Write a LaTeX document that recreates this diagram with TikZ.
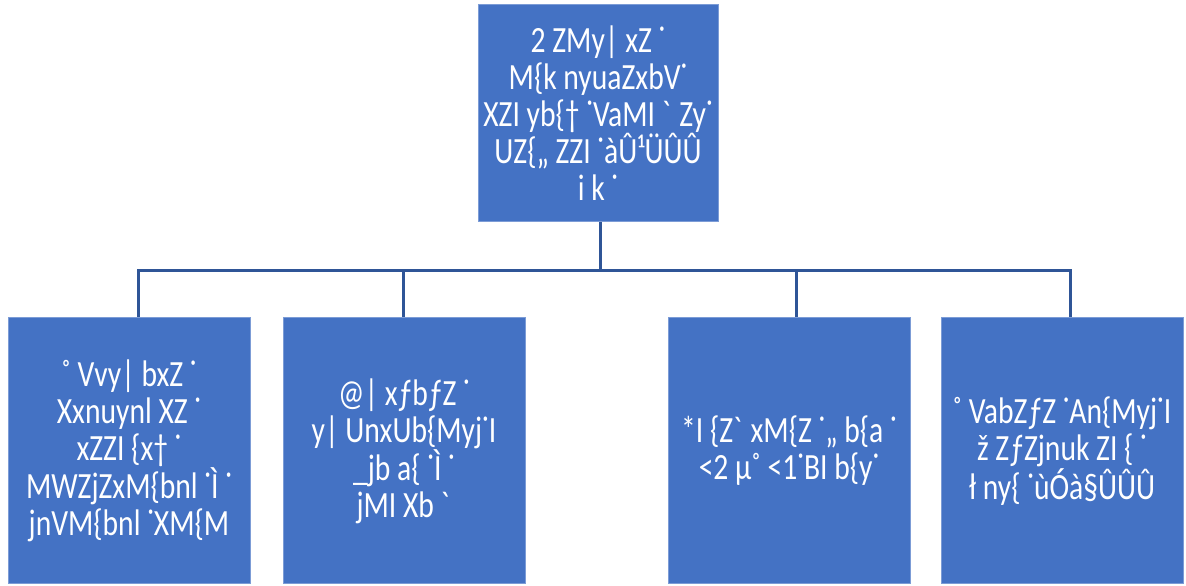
\documentclass[tikz,border=0pt]{standalone}
\usepackage{fontspec}
\setmainfont{Carlito}[FakeStretch=0.8]
\usetikzlibrary{positioning}
\definecolor{chartblue}{RGB}{68,114,196}
\definecolor{chartline}{RGB}{47,85,151}
\tikzset{
    % org chart boxes
    orgbox/.style={
        rectangle, fill=chartblue, draw=chartblue!70!white,
        line width=1pt, text=white, align=center, inner sep=0pt,
        font=\fontsize{37}{37}\selectfont
    },
    topbox/.style={orgbox, minimum width=240pt, minimum height=217pt},
    leafbox/.style={orgbox, minimum width=242pt, minimum height=266pt},
    % connectors
    link/.style={draw=chartline, line width=3pt},
}

\begin{document}
\begin{tikzpicture}[x=1pt,y=1pt]
  \useasboundingbox (0,0) rectangle (1186,586);
  % the head box
  \node[topbox] (boss) at (598,472.5)
     {2 ZMy| xZ ˙\\ M\{k nyuaZxbV˙\\ XZI yb\{† ˙VaMI \textasciigrave{} Zy˙\\ UZ\{„ ZZI ˙àÛ¹ÜÛÛ\\ i k ˙};

  % the four boxes below
  \node[leafbox] (b1) at (129,135)
     {˚ Vvy| bxZ ˙\\ Xxnuynl XZ ˙\\ xZZI \{x† ˙\\ MWZjZxM\{bnl ˙Ì ˙\\ jnVM\{bnl ˙XM\{M};
  \node[leafbox] (b2) at (404,135)
     {@| xƒbƒZ ˙\\ y| UnxUb\{Myj˙I\\ \_jb a\{ ˙Ì ˙\\ jMI Xb \textasciigrave{}};
  \node[leafbox] (b3) at (789,135)
     {*I \{Z\textasciigrave{} xM\{Z ˙„ b\{a ˙\\ <2 µ˚ <1˙BI b\{y˙};
  \node[leafbox] (b4) at (1062,135)
     {˚ VabZƒZ ˙An\{Myj˙I\\ ž ZƒZjnuk ZI \{ ˙\\ ł ny\{ ˙ùÓà§ÛÛÛ};

  % connectors
  \draw[link] ([xshift=2pt]boss.south) -- ++(0,-48) coordinate (hub);
  \foreach \b/\dx in {b1/9,b2/-1,b3/7,b4/8}
     \draw[link] (hub) -| ([xshift=\dx pt]\b.north);
\end{tikzpicture}
\end{document}
